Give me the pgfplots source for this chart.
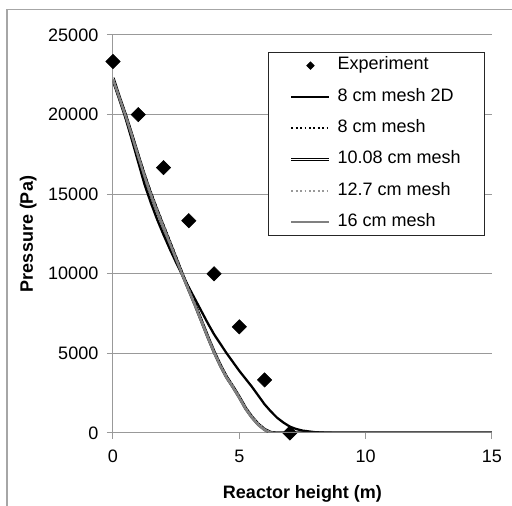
\documentclass[border=0pt]{standalone}
\usepackage{fontspec}
\setmainfont{Liberation Sans}
\usepackage{pgfplots}
\usepackage{pgfplotstable}
\pgfplotsset{compat=1.18}
\pgfplotsset{
 linelegend/.style={legend image code/.code={\draw[##1] (0pt,0pt) -- (28.5pt,0pt);}},
 marklegend/.style={legend image code/.code={\draw[##1,mark size=1.9pt] plot coordinates {(14.25pt,0pt)};}},
}
\pgfplotstableread{
x y
0 23333
1 20000
2 16667
3 13333
4 10000
5 6667
6 3333
7 0
}\expdata
\pgfplotstableread{
x d2 m8 m10 m127 m16
0    22100 22250 22300 22250 22200
0.25 20950 21150 21100 21100 21050
0.5  19750 20050 19950 20000 19900
0.75 18400 18800 18700 18750 18650
1.0  17000 17550 17400 17450 17350
1.25 15600 16300 16150 16200 16100
1.5  14450 15150 15000 15050 14950
1.75 13400 14100 13950 14000 13900
2.0  12450 13100 12950 13000 12900
2.25 11550 12100 11950 12000 11900
2.5  10700 11100 10950 11000 10900
2.75 9900  10050 9950  10000 9900
3.0  9150  9100  9000  9050  8950
3.25 8400  8100  8050  8100  8000
3.5  7650  7100  7050  7100  7000
3.75 6900  6100  6050  6100  6000
4.0  6200  5150  5100  5150  5050
4.25 5600  4300  4250  4300  4200
4.5  5000  3550  3500  3550  3450
4.75 4450  2900  2900  2950  2850
5.0  3900  2250  2250  2300  2200
5.25 3400  1600  1550  1600  1500
5.5  2900  1000  1000  1050  950
5.75 2350  550   550   600   500
6.0  1800  220   220   250   180
6.25 1350  30    30    40    20
6.5  950   0     0     0     0
6.75 650   0     0     0     0
7.0  400   0     0     0     0
7.25 250   0     0     0     0
7.5  150   0     0     0     0
8.0  50    0     0     0     0
8.5  10    0     0     0     0
9.0  0     0     0     0     0
15   0     0     0     0     0
}\simdata
\begin{document}
\begin{tikzpicture}
\path[use as bounding box] (0pt,0pt) rectangle (384pt,379.5pt);
\draw[gray!70, line width=0.75pt] (5.25pt,-2pt) -- (5.25pt,372pt) -- (386pt,372pt);
\begin{axis}[
 at={(84.75pt,54.75pt)}, anchor=south west,
 scale only axis, width=284.25pt, height=298.5pt,
 xmin=0, xmax=15, ymin=0, ymax=25000,
 xtick={0,5,10,15}, ytick={0,5000,10000,15000,20000,25000},
 axis lines*=left,
 axis line style={gray!80, line width=0.75pt},
 ymajorgrids, grid style={gray!80, line width=0.75pt},
 tick style={gray!80, line width=0.75pt},
 tick align=outside, major tick length=4.5pt,
 scaled y ticks=false,
 /pgf/number format/fixed,
 /pgf/number format/1000 sep={},
 /pgf/number format/assume math mode=true,
 tick label style={font=\fontsize{13.5}{16}\selectfont},
 yticklabel style={xshift=-3pt},
 xticklabel style={yshift=-5pt},
 xlabel={\bfseries Reactor height (m)},
 ylabel={\bfseries Pressure (Pa)},
 label style={font=\fontsize{13.5}{16}\selectfont},
 xlabel style={at={(axis description cs:0.5,-0.153)}, anchor=center},
 ylabel style={at={(axis description cs:-0.224,0.5)}, anchor=center},
 clip mode=individual,
 linelegend,
 legend cell align=left,
 legend style={at={(0.409,0.957)}, anchor=north west, draw=black!85, line width=0.75pt,
   fill=white, inner xsep=16pt, inner ysep=3pt, row sep=10pt, column sep=3pt,
   font=\fontsize{13.5}{16}\selectfont,
   nodes={text height=10pt, text depth=3.5pt, inner ysep=0pt, inner xsep=2pt}},
]
\addplot[only marks, mark=square*, mark size=3.8pt, mark options={rotate=45, fill=black, draw=black}, marklegend] table[x=x, y=y] {\expdata};
\addlegendentry{Experiment}
\addplot[black, line width=1.7pt] table[x=x, y=d2] {\simdata};
\addlegendentry{8 cm mesh 2D}
\addplot[black, dotted, line width=1.3pt] table[x=x, y=m8] {\simdata};
\addlegendentry{8 cm mesh}
\addplot[black, line width=0.7pt, double=white, double distance=1pt] table[x=x, y=m10] {\simdata};
\addlegendentry{10.08 cm mesh}
\addplot[black!40, dotted, line width=1.3pt] table[x=x, y=m127] {\simdata};
\addlegendentry{12.7 cm mesh}
\addplot[black!50, line width=1.8pt] table[x=x, y=m16] {\simdata};
\addlegendentry{16 cm mesh}
\end{axis}
\end{tikzpicture}
\end{document}
